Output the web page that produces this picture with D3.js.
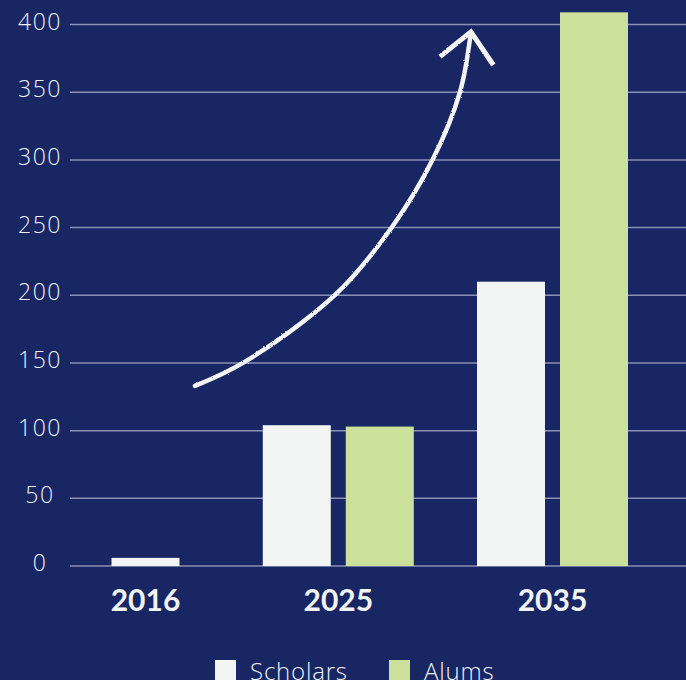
<!DOCTYPE html>
<html lang="en">
<head>
    <meta charset="UTF-8">
    <title>Scholars and Alums</title>
    <script src="https://d3js.org/d3.v7.min.js"></script>
    <style>
        html, body {
            margin: 0;
            padding: 0;
            background-color: #182764;
            overflow: hidden;
        }
        .grid line {
            stroke: #8991b4;
            stroke-width: 1.5px;
        }
        .ylabel {
            font-family: "Open Sans", sans-serif;
            font-weight: 300;
            font-size: 23px;
            letter-spacing: 1.5px;
            fill: #eef0f4;
            text-anchor: middle;
        }
        .xlabel {
            font-family: Lato, sans-serif;
            font-weight: bold;
            font-size: 30px;
            fill: #f2f3f5;
            text-anchor: middle;
        }
        .legend text {
            font-family: "Open Sans", sans-serif;
            font-weight: 300;
            font-size: 24px;
            letter-spacing: 0.8px;
            fill: #eef0f4;
        }
    </style>
</head>
<body>
    <svg width="686" height="680"></svg>

    <script>
        // data
        const years = [2016, 2025, 2035];
        const scholars = [6, 104, 210];
        const alums = [null, 103, 409];
        const yTicks = [0, 50, 100, 150, 200, 250, 300, 350, 400];
        const seriesNames = ["Scholars", "Alums"];
        const seriesColors = ["#f3f4f4", "#cbe09b"];

        // hand drawn arrow, in chart units (year, value)
        const arrowShaft = [
            [2018.31, 133.0], [2020.55, 150.0], [2024.85, 200.2],
            [2027.51, 250.4], [2029.42, 300.6], [2030.68, 350.1], [2031.19, 394.5]
        ];
        const arrowHead = [[2029.75, 376.3], [2031.19, 394.6], [2032.24, 370.1]];

        const svg = d3.select("svg");

        const x = d3.scaleLinear().domain([2016, 2035]).range([145.5, 552.5]);
        const y = d3.scaleLinear().domain([0, 400]).range([566, 24.5]);

        // rough pencil texture
        const defs = svg.append("defs");
        const f = defs.append("filter").attr("id", "rough")
            .attr("x", "-10%").attr("y", "-10%").attr("width", "120%").attr("height", "120%");
        f.append("feTurbulence").attr("type", "fractalNoise")
            .attr("baseFrequency", 0.9).attr("numOctaves", 2).attr("result", "noise");
        f.append("feDisplacementMap").attr("in", "SourceGraphic").attr("in2", "noise")
            .attr("scale", 2.2);

        // grid
        svg.append("g").attr("class", "grid")
            .selectAll("line")
            .data(yTicks)
            .enter().append("line")
            .attr("x1", 70).attr("x2", 686)
            .attr("y1", d => y(d)).attr("y2", d => y(d));

        svg.append("g")
            .selectAll("text")
            .data(yTicks)
            .enter().append("text")
            .attr("class", "ylabel")
            .attr("x", 40)
            .attr("y", d => y(d) + 5)
            .text(d => d);

        // bars
        const groups = years.map((yr, i) => {
            const vals = [
                { key: "Scholars", value: scholars[i], color: seriesColors[0] },
                { key: "Alums", value: alums[i], color: seriesColors[1] }
            ].filter(d => d.value != null);
            const bw = 68, gap = 15;
            const half = (vals.length * bw + (vals.length - 1) * gap) / 2;
            const inner = d3.scaleBand().domain(vals.map(d => d.key))
                .range([-half, half])
                .paddingInner(vals.length > 1 ? gap / (bw + gap) : 0)
                .paddingOuter(0);
            return { year: yr, vals: vals, inner: inner };
        });

        const g = svg.append("g")
            .selectAll("g")
            .data(groups)
            .enter().append("g")
            .attr("transform", d => `translate(${x(d.year)},0)`);

        g.selectAll("rect")
            .data(d => d.vals.map(v => Object.assign({ inner: d.inner }, v)))
            .enter().append("rect")
            .attr("x", d => d.inner(d.key))
            .attr("width", d => d.inner.bandwidth())
            .attr("y", d => y(d.value))
            .attr("height", d => y(0) - y(d.value))
            .attr("fill", d => d.color);

        svg.append("g")
            .selectAll("text")
            .data(years)
            .enter().append("text")
            .attr("class", "xlabel")
            .attr("x", d => x(d))
            .attr("y", 611)
            .text(d => d);

        // arrow
        svg.append("path")
            .attr("d", d3.line().x(d => x(d[0])).y(d => y(d[1]))
                .curve(d3.curveCatmullRom.alpha(0.5))(arrowShaft))
            .attr("fill", "none")
            .attr("stroke", "#f4f4f4")
            .attr("stroke-width", 4.5)
            .attr("stroke-linecap", "round")
            .attr("filter", "url(#rough)");
        svg.append("path")
            .attr("d", d3.line().x(d => x(d[0])).y(d => y(d[1]))(arrowHead))
            .attr("fill", "none")
            .attr("stroke", "#f4f4f4")
            .attr("stroke-width", 5)
            .attr("stroke-linejoin", "miter")
            .attr("filter", "url(#rough)");

        // legend
        const legend = svg.append("g").attr("class", "legend");
        const legendX = [215, 389];
        seriesNames.forEach((name, i) => {
            legend.append("rect")
                .attr("x", legendX[i]).attr("y", 660)
                .attr("width", 21).attr("height", 21)
                .attr("fill", seriesColors[i]);
            legend.append("text")
                .attr("x", legendX[i] + 35).attr("y", 680)
                .text(name);
        });
    </script>
</body>
</html>
